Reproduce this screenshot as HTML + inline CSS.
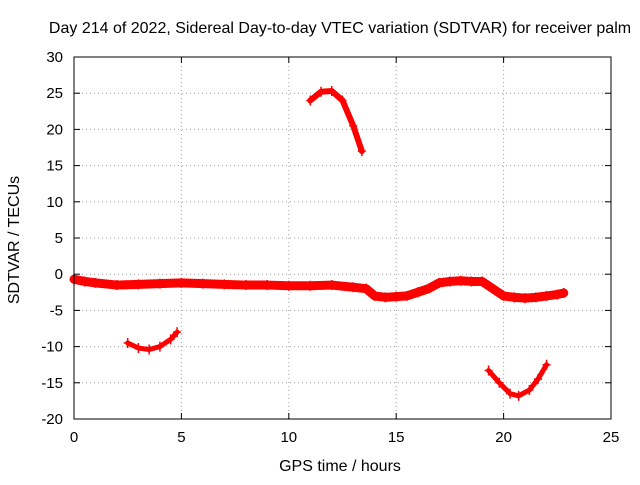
<!DOCTYPE html>
<html><head><meta charset="utf-8"><style>
body{margin:0;background:#fff}
svg text{font-family:"Liberation Sans",sans-serif;font-size:15px;fill:#000}
svg text.big{font-size:16px}
</style></head><body>
<svg id="c" width="640" height="480">
<rect x="0" y="0" width="640" height="480" fill="#fff"/>
<g id="grid"></g><g id="data"></g><g id="ax"></g>
<text class="big" x="340" y="33" text-anchor="middle">Day 214 of 2022, Sidereal Day-to-day VTEC variation (SDTVAR) for receiver palm</text>
<text class="big" x="340" y="471" text-anchor="middle">GPS time / hours</text>
<text class="big" transform="translate(19,240) rotate(-90)" text-anchor="middle">SDTVAR / TECUs</text>
</svg>
<script>
const xTicks=[0,5,10,15,20,25];
const yTicks=[30,25,20,15,10,5,0,-5,-10,-15,-20];
const bandX=[0,0.5,1,2,3,4,5,6,7,8,9,10,11,12,13,13.6,14,14.5,15,15.5,16,16.5,17,17.5,18,18.5,19,19.5,20,20.5,21,21.5,22,22.5,22.8];
const bandY=[-0.7,-1,-1.2,-1.5,-1.4,-1.3,-1.2,-1.3,-1.4,-1.5,-1.5,-1.6,-1.6,-1.5,-1.8,-2,-3,-3.2,-3.1,-3,-2.5,-2,-1.2,-1,-0.9,-1,-1,-2,-3,-3.2,-3.3,-3.2,-3,-2.8,-2.6];
const arc1X=[2.5,3,3.5,4,4.5,4.8];
const arc1Y=[-9.5,-10.2,-10.4,-10,-9,-8];
const arc2X=[11,11.5,12,12.5,13,13.4];
const arc2Y=[24,25.2,25.3,24,20.5,17];
const arc3X=[19.3,19.8,20.3,20.7,21.2,21.6,22];
const arc3Y=[-13.3,-15,-16.5,-16.8,-16,-14.5,-12.5];
const X0=74,X1=611,Y0=419,Y1=57;
const sx=v=>X0+(v-0)/(25-0)*(X1-X0);
const sy=v=>Y0-(v+20)/(50)*(Y0-Y1);
const NS="http://www.w3.org/2000/svg";
function mk(t,a,p){const e=document.createElementNS(NS,t);for(const k in a)e.setAttribute(k,a[k]);p.appendChild(e);return e;}
const g=document.getElementById('grid'),ax=document.getElementById('ax'),d=document.getElementById('data');
xTicks.forEach(v=>{const x=sx(v);
 if(v>0&&v<25){const l=mk('line',{x1:x,x2:x,y1:Y0,y2:Y1,stroke:'#a0a0a0','stroke-dasharray':'1,3'},g);
 
 }
 mk('line',{x1:x,x2:x,y1:Y0,y2:Y0-6,stroke:'#000'},ax);mk('line',{x1:x,x2:x,y1:Y1,y2:Y1+6,stroke:'#000'},ax);
 const t=mk('text',{x:x,y:Y0+23,'text-anchor':'middle'},ax);t.textContent=v;
 
 });
yTicks.forEach(v=>{const y=sy(v);
 if(v>-20&&v<30){const l=mk('line',{x1:X0,x2:X1,y1:y,y2:y,stroke:'#a0a0a0','stroke-dasharray':'1,3'},g);
 
 }
 mk('line',{x1:X0,x2:X0+6,y1:y,y2:y,stroke:'#000'},ax);mk('line',{x1:X1,x2:X1-6,y1:y,y2:y,stroke:'#000'},ax);
 const t=mk('text',{x:X0-11,y:y+5,'text-anchor':'end'},ax);t.textContent=v;
 
 });
const fr=mk('rect',{x:X0,y:Y1,width:X1-X0,height:Y0-Y1,fill:'none',stroke:'#000'},ax);


function series(xs,ys,name,w){
 const pts=xs.map((x,i)=>sx(x)+','+sy(ys[i])).join(' ');
 const p=mk('polyline',{points:pts,fill:'none',stroke:'#f00','stroke-width':w,'stroke-linejoin':'round','stroke-linecap':'round'},d);
 
 
 xs.forEach((x,i)=>{const cx=sx(x),cy=sy(ys[i]);
  mk('path',{d:`M${cx-4},${cy}h8M${cx},${cy-5}v10`,stroke:'#f00','stroke-width':1.5},d);});
}
series(bandX,bandY,'series-main-band',9);
series(arc1X,arc1Y,'series-arc-1',5);
series(arc2X,arc2Y,'series-arc-2',6);
series(arc3X,arc3Y,'series-arc-3',5);
</script>
</body></html>
